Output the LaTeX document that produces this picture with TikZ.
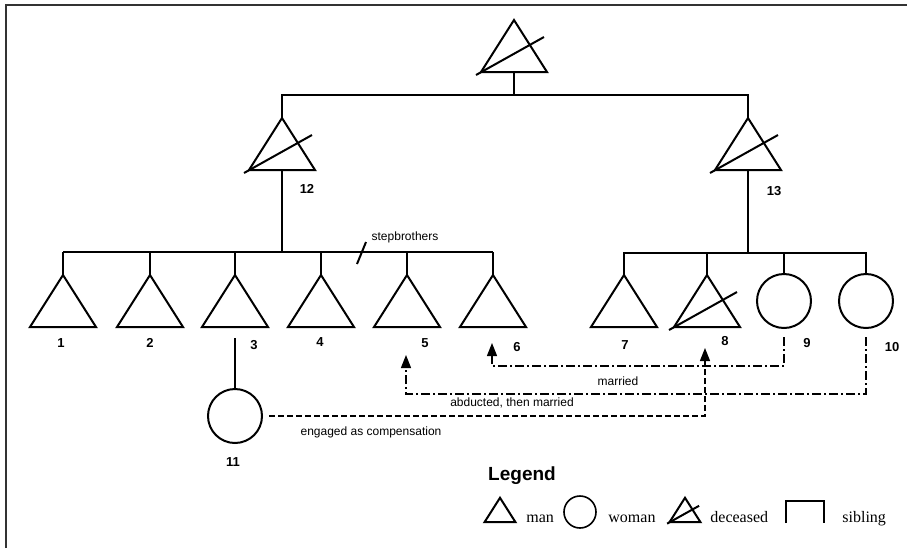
\documentclass[tikz,border=0pt]{standalone}
\usepackage{fontspec}
\setmainfont{Liberation Sans}
\newfontfamily\keyfont{Liberation Serif}
\usetikzlibrary{arrows.meta}

\tikzset{
  kin/.style={line width=1pt},
  woman/.style={draw,circle,line width=1pt,minimum size=27pt,inner sep=0pt},
  num/.style={font=\fontsize{6.5}{7}\selectfont\bfseries},
  note/.style={font=\fontsize{6}{7}\selectfont},
  wed/.style={line width=0.7pt,dash pattern=on 4.5pt off 1.5pt on 1pt off 1.5pt},
  promise/.style={line width=0.7pt,dash pattern=on 3pt off 1.5pt},
  tip/.style={-{Triangle[width=5pt,length=6.5pt]}},
  keytext/.style={font=\fontsize{8}{9}\selectfont\keyfont,anchor=base west,inner sep=0pt},
  man/.pic={
    \draw[kin] (-33,26) -- (0,-26) -- (33,26) -- cycle;
    \coordinate (-top) at (0,-26);
    \coordinate (-bot) at (0,26);
  },
  deadman/.pic={
    \draw[kin] (-33,26) -- (0,-26) -- (33,26) -- cycle;
    \draw[kin] (-38,29) -- (30,-9);
    \coordinate (-top) at (0,-26);
    \coordinate (-bot) at (0,26);
  }
}

\begin{document}
\begin{tikzpicture}[x=0.5pt,y=-0.5pt]
\useasboundingbox (0,0) rectangle (907,548);
\draw[line width=1pt,black!80] (6,548) -- (6,5) -- (907,5);

% elders
\pic (g0) at (514,46) {deadman};
\pic (g12) at (282,144) {deadman};
\pic (g13) at (748,144) {deadman};
\node[num] (n12) at (307,189) {12};
\node[num] (n13) at (774,191) {13};
\coordinate (fam0) at (514,95);
\draw[kin] (g0-bot) -- (fam0);
\draw[kin] (g12-top) |- (fam0) -| (g13-top);

% sons of 12
\foreach \k/\x in {1/63,2/150,3/235,4/321,5/407,6/493}
  \pic (m\k) at (\x,301) {man};
\coordinate (fam12) at (282,252);
\draw[kin] (g12-bot) -- (fam12);
\draw[kin] (m1-top |- fam12) -- (m6-top |- fam12);
\foreach \k in {1,...,6}
  \draw[kin] (m\k-top) -- (m\k-top |- fam12);
\draw[kin] (357,264) -- (366,242);
\node[note] (sb) at (405,237) {stepbrothers};

% children of 13
\pic (m7) at (624,301) {man};
\pic (m8) at (707,301) {deadman};
\node[woman] (w9) at (784,301) {};
\node[woman] (w10) at (866,301) {};
\coordinate (fam13) at (748,253);
\draw[kin] (g13-bot) -- (fam13);
\draw[kin] (m7-top) |- (fam13) -| (w10.north);
\draw[kin] (m8-top) -- (m8-top |- fam13);
\draw[kin] (w9.north) -- (w9.north |- fam13);

\foreach \k/\x/\y in {1/61/343,2/150/343,3/254/345,4/320/342,5/425/343,
                      6/517/347,7/625/345,8/725/341,9/807/343,10/892/347,11/233/462}
  \node[num] (n\k) at (\x,\y) {\k};

% 11
\node[woman] (w11) at (235,416) {};
\draw[kin] ([yshift=-5.5pt]m3-bot) -- (w11.north);

% marriages
\coordinate (t5) at (406,355);
\coordinate (t6) at (492,343);
\coordinate (t8) at (705,348);
\draw[wed,tip] ([yshift=-4pt]w9.south) -- ++(0,29) -| (t6);
\draw[wed,tip] ([yshift=-4pt]w10.south) -- ++(0,57) -| (t5);
\draw[promise,tip] ([xshift=3pt]w11.east) -| (t8);
\node[note] (lwed) at (618,381) {married};
\node[note] (lrapt) at (512,403) {abducted, then married};
\node[note] (lpromise) at (371,432) {engaged as compensation};

% legend
\node[font=\fontsize{9.5}{11}\selectfont\bfseries] (lgd) at (522,476) {Legend};
\pic[scale=0.47] (kman) at (500,510) {man};
\node[keytext] (kmant) at (526,522) {man};
\node[woman,minimum size=16pt,line width=0.8pt] (kwoman) at (580,512) {};
\node[keytext] (kwomant) at (608,522) {woman};
\pic[scale=0.47] (kdead) at (685,510) {deadman};
\node[keytext] (kdeadt) at (710,522) {deceased};
\draw[line width=0.8pt] (786,523) |- (824,501) -- (824,523);
\node[keytext] (ksibt) at (842,522) {sibling};
\end{tikzpicture}
\end{document}
